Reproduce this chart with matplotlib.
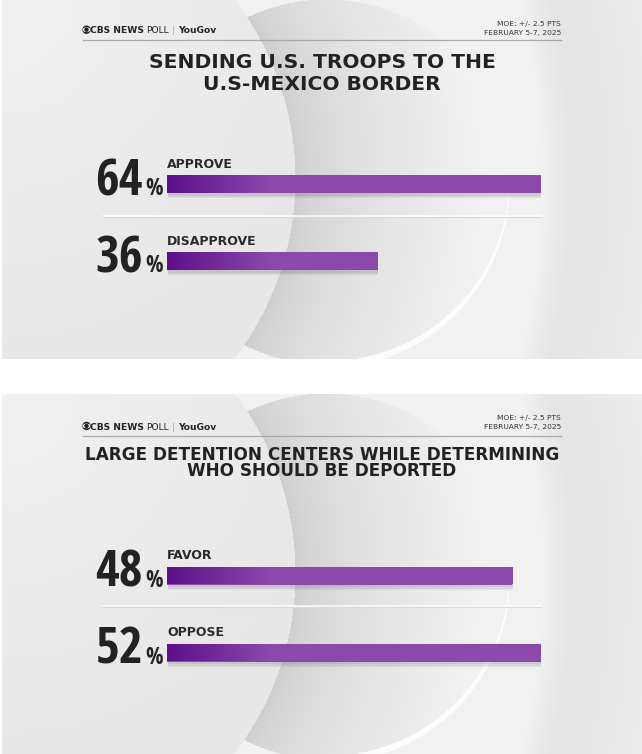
import numpy as np
import matplotlib
matplotlib.use("Agg")
import matplotlib.pyplot as plt
from matplotlib import font_manager as fm
from matplotlib.textpath import TextPath
from matplotlib.patches import Circle, Ellipse

W, H = 642, 754

# datos de las dos encuestas
titles_1 = ["SENDING U.S. TROOPS TO THE", "U.S-MEXICO BORDER"]
labels_1 = ["APPROVE", "DISAPPROVE"]
values_1 = [64, 36]

titles_2 = ["LARGE DETENTION CENTERS WHILE DETERMINING", "WHO SHOULD BE DEPORTED"]
labels_2 = ["FAVOR", "OPPOSE"]
values_2 = [48, 52]

moe_lines = ["MOE: +/- 2.5 PTS", "FEBRUARY 5-7, 2025"]

DARK = "#222222"
PURPLE_L = np.array([0x5c, 0x10, 0x8a]) / 255
PURPLE_R = np.array([0x8c, 0x49, 0xac]) / 255

SANS_FAMILIES = ("DejaVu Sans", "Liberation Sans", "Noto Sans", "Roboto",
                 "Open Sans", "Lato", "Inter")


def find_narrow_bold():
    """Negrita sans (de las familias conocidas) con los dígitos más estrechos."""
    best, best_ratio = None, 9.0
    for f in fm.fontManager.ttflist:
        if not f.name.startswith(SANS_FAMILIES):
            continue
        if "mono" in f.name.lower() or "cjk" in f.name.lower() or f.style != "normal":
            continue
        w = f.weight
        heavy = (w in ("bold", "heavy", "black", "extra bold", "demibold")
                 or (isinstance(w, (int, float)) and w >= 600))
        if not heavy:
            continue
        try:
            ext = TextPath((0, 0), "64", size=100,
                           prop=fm.FontProperties(fname=f.fname)).get_extents()
        except Exception:
            continue
        if ext.height <= 0:
            continue
        ratio = ext.width / ext.height
        if 0.8 < ratio < best_ratio:
            best, best_ratio = f.fname, ratio
    return best, best_ratio


narrow_path, narrow_ratio = find_narrow_bold()


def num_font(size):
    if narrow_path:
        return fm.FontProperties(fname=narrow_path, size=size)
    return fm.FontProperties(family="DejaVu Sans", weight="bold", size=size * 0.72)


# tamaño: alto ~38 px, recortado si la fuente es ancha
num_size = 37
if narrow_path and narrow_ratio > 1.2:
    num_size = 37 * max(0.82, 1.2 / narrow_ratio)


def panel_background(w, h):
    """Fondo gris con la media luna."""
    yy, xx = np.mgrid[0:h, 0:w].astype(float)
    dA = np.hypot(xx + 4, yy - 179) - 297
    dB = np.hypot(xx - 324, yy - 182) - 183
    dC = np.hypot(xx + 200, yy - 180) - 740

    g = 231 + 10 * np.clip(1 - np.hypot(xx, yy) / 380, 0, 1)
    cres = (dA > 0) & (dB < 0)
    s = np.clip(dA / 190, 0, 1)
    g = np.where(cres, 205 + 37 * s ** 0.6, g)
    right = (dA > 0) & (dB >= 0)
    shade = np.clip(dC / 30, 0, 1) * (1 - 0.6 * np.clip((dC - 30) / 80, 0, 1))
    g = np.where(right, 241 - 12 * shade, g)
    # brillo fino en el borde inferior de la media luna
    wid = 0.4 + 2.8 * np.clip((yy - 195) / 160, 0, 1)
    hl = (np.abs(dB) < wid) & (yy > 195) & (xx > 300)
    g = np.where(hl, 252, g)
    g = np.clip(g, 0, 255).astype(np.uint8)
    return np.dstack([g, g, g])


fig = plt.figure(figsize=(W / 100, H / 100), dpi=100)
bg = fig.add_axes([0, 0, 1, 1])
bg.axis("off")

img = panel_background(640, 360)
bg.imshow(img, extent=(2, 642, 359, 0), aspect="auto", zorder=0)
bg.imshow(img, extent=(2, 642, 754, 394), aspect="auto", zorder=0)
bg.set_xlim(0, W)
bg.set_ylim(H, 0)


def header(y_base, y_rule, moe_base):
    # logo CBS (ojo) + texto
    cy = y_base - 3.6
    bg.add_patch(Circle((86.5, cy), 3.5, color=DARK, zorder=3))
    bg.add_patch(Ellipse((86.5, cy), 6.2, 3.4, color="white", zorder=4))
    bg.add_patch(Circle((86.5, cy), 1.5, color=DARK, zorder=5))
    t = bg.text(90.5, y_base, "CBS NEWS", fontsize=6.6, fontweight="bold",
                color=DARK, va="baseline", ha="left", zorder=5)
    t = bg.annotate("POLL", xy=(1, 0), xycoords=t, xytext=(1.5, 0),
                    textcoords="offset points", fontsize=6.6, color=DARK,
                    va="bottom", ha="left")
    t = bg.annotate("|", xy=(1, 0), xycoords=t, xytext=(2, 0),
                    textcoords="offset points", fontsize=6.6, color="#aaaaaa",
                    va="bottom", ha="left")
    bg.annotate("YouGov", xy=(1, 0), xycoords=t, xytext=(2, 0),
                textcoords="offset points", fontsize=6.6, fontweight="bold",
                color=DARK, va="bottom", ha="left")
    for k, line in enumerate(moe_lines):
        bg.text(561, moe_base + k * 8.6, line, fontsize=5.4, color="#333333",
                ha="right", va="baseline")
    bg.plot([83, 561], [y_rule, y_rule], color="#a8a8a8", lw=0.9)


def title(lines, baselines, size):
    for line, yb in zip(lines, baselines):
        bg.text(322, yb, line, fontsize=size, fontweight="bold", color=DARK,
                ha="center", va="baseline")


def bars(center_px, labels, values, sep):
    # ejes: y=0 en el centro de la primera barra, 77 px entre barras
    top = center_px - 34
    ax = fig.add_axes([167 / W, 1 - (top + 140) / H, 374 / W, 140 / H])
    ax.patch.set_alpha(0)
    ax.axis("off")
    xmax = max(values)
    h = 18 / 77
    ys = np.arange(len(values))
    for k in range(3):
        ax.barh(ys + 0.035 + 0.018 * k, values, height=h, left=0.003 * xmax,
                color="black", alpha=0.05, lw=0, zorder=1)
    rects = ax.barh(ys, values, height=h, color=PURPLE_R, lw=0, zorder=2)
    t = np.clip(np.linspace(0, 374, 374) / 105, 0, 1)[None, :, None]
    grad = PURPLE_L * (1 - t) + PURPLE_R * t
    for r in rects:
        im = ax.imshow(grad, extent=(0, xmax, -0.5, len(values) - 0.5),
                       aspect="auto", zorder=3)
        im.set_clip_path(r)
    tr = ax.get_yaxis_transform()
    for y, lab, v in zip(ys, labels, values):
        ax.text(0, y - 0.21, lab, fontsize=9, fontweight="bold", color="#2b2b2b",
                ha="left", va="baseline")
        ax.text(-0.064, y + 0.145, str(v), transform=tr,
                fontproperties=num_font(num_size), color=DARK,
                ha="right", va="baseline")
        ax.text(-0.057, y + 0.145, "%", transform=tr,
                fontproperties=num_font(num_size * 0.45), color=DARK,
                ha="left", va="baseline")
    ax.plot([-0.171, 1.0], [sep + 0.012, sep + 0.012], transform=tr,
            color="#d9d9d9", lw=0.8, clip_on=False, zorder=1)
    ax.plot([-0.171, 1.0], [sep, sep], transform=tr,
            color="#fbfbfb", lw=1.2, clip_on=False, zorder=1)
    ax.set_xlim(0, xmax)
    ax.set_ylim((140 - 34) / 77, -34 / 77)


header(33.3, 39.5, 26)
title(titles_1, [68, 90.3], 14.6)
bars(184, labels_1, values_1, 0.415)

header(429.5, 435.5, 420.3)
title(titles_2, [460, 476.5], 12.2)
bars(575.5, labels_2, values_2, 0.4)

fig.savefig("out.png", dpi=100)
